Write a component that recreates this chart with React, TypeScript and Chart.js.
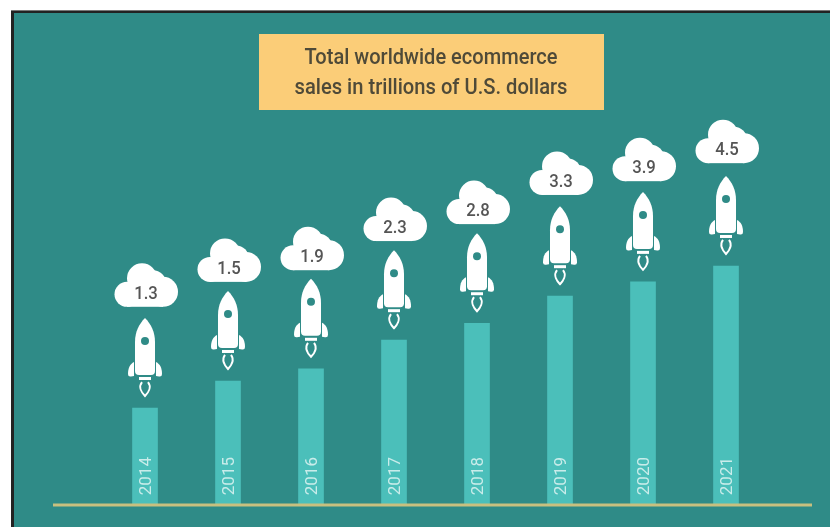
import React, { useEffect, useRef } from "react";
import { Chart, registerables } from "chart.js";

Chart.register(...registerables);

const years = ["2014", "2015", "2016", "2017", "2018", "2019", "2020", "2021"];
const cloudValues = ["1.3", "1.5", "1.9", "2.3", "2.8", "3.3", "3.9", "4.5"];
const barLevels = [1.83, 2.34, 2.57, 3.11, 3.43, 3.94, 4.21, 4.51];
const cloudLevels = [3.74, 4.21, 4.43, 4.98, 5.3, 5.85, 6.11, 6.45];
const titleLines = ["Total worldwide ecommerce", "sales in trillions of U.S. dollars"];

const PANEL = "#2f8b87";
const BAR = "#4bbfba";

function drawCloud(ctx: CanvasRenderingContext2D, cx: number, bottom: number) {
  const top = bottom - 43.5;
  ctx.fillStyle = "#ffffff";
  ctx.beginPath();
  ctx.arc(cx - 19, top + 31, 12.5, 0, Math.PI * 2);
  ctx.fill();
  ctx.beginPath();
  ctx.arc(cx + 17, top + 28.5, 15, 0, Math.PI * 2);
  ctx.fill();
  ctx.beginPath();
  ctx.arc(cx - 4, top + 15, 15, 0, Math.PI * 2);
  ctx.fill();
  ctx.beginPath();
  ctx.arc(cx + 7, top + 20, 13, 0, Math.PI * 2);
  ctx.fill();
  ctx.fillRect(cx - 19, top + 22, 36, 21.5);
}

function drawRocket(ctx: CanvasRenderingContext2D, cx: number, top: number) {
  ctx.fillStyle = "#ffffff";
  // fins
  [-1, 1].forEach((s) => {
    ctx.beginPath();
    ctx.moveTo(cx + s * 11, top + 44);
    ctx.bezierCurveTo(cx + s * 15, top + 46, cx + s * 17, top + 50, cx + s * 17, top + 56);
    ctx.quadraticCurveTo(cx + s * 17, top + 59, cx + s * 14, top + 58.5);
    ctx.lineTo(cx + s * 11, top + 58);
    ctx.closePath();
    ctx.fill();
  });
  // body
  ctx.beginPath();
  ctx.moveTo(cx, top);
  ctx.bezierCurveTo(cx + 6, top + 6, cx + 10, top + 14, cx + 10, top + 24);
  ctx.lineTo(cx + 10, top + 53);
  ctx.quadraticCurveTo(cx + 10, top + 57, cx + 6, top + 57);
  ctx.lineTo(cx - 6, top + 57);
  ctx.quadraticCurveTo(cx - 10, top + 57, cx - 10, top + 53);
  ctx.lineTo(cx - 10, top + 24);
  ctx.bezierCurveTo(cx - 10, top + 14, cx - 6, top + 6, cx, top);
  ctx.closePath();
  ctx.fill();
  // nozzle
  ctx.fillRect(cx - 6, top + 59, 12, 3);
  // flame outline
  ctx.strokeStyle = "#ffffff";
  ctx.lineWidth = 2;
  ctx.beginPath();
  ctx.moveTo(cx - 3, top + 64);
  ctx.bezierCurveTo(cx - 7, top + 69, cx - 3, top + 75, cx, top + 78);
  ctx.bezierCurveTo(cx + 3, top + 75, cx + 7, top + 69, cx + 3, top + 64);
  ctx.stroke();
  // window
  ctx.fillStyle = PANEL;
  ctx.beginPath();
  ctx.arc(cx, top + 23, 4, 0, Math.PI * 2);
  ctx.fill();
}

const decorations = {
  id: "decorations",
  beforeDraw(chart: any) {
    const { ctx, width, height } = chart;
    ctx.save();
    ctx.fillStyle = "#ffffff";
    ctx.fillRect(0, 0, width, height);
    ctx.fillStyle = "#777777";
    ctx.fillRect(11, 10, width - 11, 1);
    ctx.fillStyle = "#222222";
    ctx.fillRect(11, 11, width - 11, height - 11);
    ctx.fillStyle = PANEL;
    ctx.fillRect(14, 13, width - 14, height - 13);
    // title box
    ctx.fillStyle = "#fbcd78";
    ctx.fillRect(259, 34, 345, 76);
    ctx.fillStyle = "#4f4a38";
    ctx.font = "500 22px Roboto";
    ctx.textAlign = "center";
    ctx.textBaseline = "middle";
    titleLines.forEach((line, i) => {
      const w = ctx.measureText(line).width;
      const targetW = i === 0 ? 253 : 273;
      ctx.save();
      ctx.translate(431, 58 + i * 30);
      ctx.scale(targetW / w, 1);
      ctx.fillText(line, 0, 0);
      ctx.restore();
    });
    ctx.restore();
  },
  afterDatasetsDraw(chart: any) {
    const { ctx } = chart;
    const meta = chart.getDatasetMeta(0);
    const yScale = chart.scales.y;
    ctx.save();
    meta.data.forEach((bar: any, i: number) => {
      drawRocket(ctx, bar.x, bar.y - 90);
      const cloudBottom = yScale.getPixelForValue(cloudLevels[i]);
      drawCloud(ctx, bar.x + 1, cloudBottom);
      ctx.fillStyle = "#555555";
      ctx.font = "500 19px Roboto";
      ctx.textAlign = "center";
      ctx.textBaseline = "middle";
      ctx.save();
      ctx.translate(bar.x + 1, cloudBottom - 12.5);
      ctx.scale(0.88, 1);
      ctx.fillText(cloudValues[i], 0, 0);
      ctx.restore();
    });
    // baseline
    const y0 = yScale.getPixelForValue(0);
    ctx.strokeStyle = "#c8c07f";
    ctx.lineWidth = 3;
    ctx.beginPath();
    ctx.moveTo(53, y0);
    ctx.lineTo(812, y0);
    ctx.stroke();
    ctx.restore();
  },
};

export default function App() {
  const ref = useRef<HTMLCanvasElement | null>(null);
  useEffect(() => {
    if (!ref.current) return;
    const chart = new Chart(ref.current, {
      type: "bar",
      data: {
        labels: years,
        datasets: [
          {
            data: barLevels,
            backgroundColor: BAR,
            borderWidth: 0,
            barThickness: 25,
          },
        ],
      },
      options: {
        responsive: false,
        animation: false,
        layout: { padding: { left: 103.5, right: 62.5, top: 10, bottom: 0 } },
        plugins: { legend: { display: false }, tooltip: { enabled: false } },
        scales: {
          y: { display: false, min: 0, max: 9.34 },
          x: {
            offset: true,
            border: { display: false },
            grid: { display: false, drawTicks: false },
            afterFit(scale: any) {
              scale.height = 22;
            },
            ticks: {
              autoSkip: false,
              mirror: true,
              minRotation: 90,
              maxRotation: 90,
              padding: 48,
              labelOffset: 22,
              z: 5,
              color: "#c9ecea",
              font: { family: "Roboto", size: 17 },
            },
          },
        },
      },
      plugins: [decorations],
    });
    return () => chart.destroy();
  }, []);
  return (
    <canvas
      ref={ref}
      width={830}
      height={527}
      style={{ position: "fixed", left: 0, top: 0, display: "block", filter: "blur(0.6px)" }}
    />
  );
}
